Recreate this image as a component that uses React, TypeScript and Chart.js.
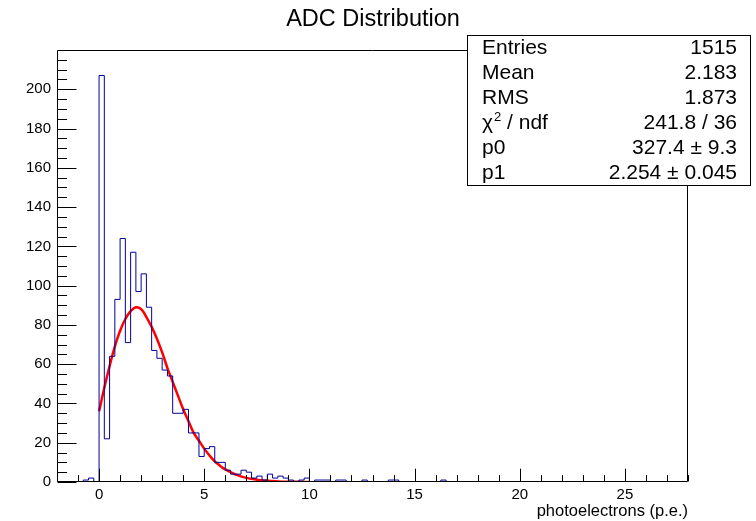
import React, { useEffect, useRef } from 'react';
import { Chart, registerables } from 'chart.js';

Chart.register(...registerables);

// ---------- data ----------
const binStart = -1.0;
const binWidth = 0.25;
const counts = [
  0, 1, 2, 0, 207, 22, 64, 93, 124, 71, 117, 97, 106, 89, 67, 63, 57, 54,
  35, 35, 37, 25, 25, 13, 17, 18, 10, 10, 6, 4, 4, 6, 5, 2, 3, 1, 4, 2, 3, 2,
  1, 0, 1, 2, 0, 1, 1, 1, 0, 1, 1, 0, 0, 0, 1, 0, 0, 0, 0, 1, 1,
  0, 0, 0, 0, 0, 0, 0, 0, 1, 0,
];

const fitX = [0, 0.25, 0.5, 0.75, 1, 1.25, 1.5, 1.75, 2, 2.25, 2.5, 2.75, 3, 3.25, 3.5, 3.75, 4, 4.25, 4.5, 4.75, 5, 5.25, 5.5, 5.75, 6, 6.5, 7, 7.5, 8, 8.5, 9, 9.5, 10];
const fitY = [36, 48, 59, 69, 77, 83, 87, 89, 88, 84, 79, 73, 66, 58, 51, 44, 37, 31, 25, 21, 17, 13.5, 10.5, 8.3, 6.4, 3.8, 2.1, 1.2, 0.6, 0.3, 0.15, 0.07, 0.03];

const xMajorTicks = [0, 5, 10, 15, 20, 25];
const yMajorTicks = [0, 20, 40, 60, 80, 100, 120, 140, 160, 180, 200];

const xMin = -2;
const xMax = 28;
const yMax = 220;

const titleText = 'ADC Distribution';
const xTitle = 'photoelectrons (p.e.)';
const statsLabels = ['Entries', 'Mean', 'RMS', 'CHI', 'p0', 'p1'];
const statsValues = ['1515', '2.183', '1.873', '241.8 / 36', '327.4 \u00b1 9.3', '2.254 \u00b1 0.045'];

const FONT = '"Liberation Sans", Arial, Helvetica, sans-serif';

const rootPlugin = {
  id: 'rootStyle',
  afterDatasetsDraw(chart: any) {
    const { ctx, chartArea: a } = chart;
    const xs = chart.scales.x;
    const ys = chart.scales.y;
    ctx.save();
    ctx.strokeStyle = '#000';
    ctx.lineWidth = 1;
    const L = Math.round(a.left) + 0.5;
    const R = Math.round(a.right) - 0.5;
    const T = Math.round(a.top) + 0.5;
    const B = Math.round(a.bottom) - 0.5;
    ctx.beginPath();
    ctx.rect(L, T, R - L, B - T);
    ctx.stroke();
    // x ticks (inside)
    ctx.beginPath();
    for (let v = xMin; v <= xMax; v += 1) {
      const px = Math.round(xs.getPixelForValue(v)) + 0.5;
      const len = v % 5 === 0 ? 12.8 : 6.4;
      ctx.moveTo(px, B);
      ctx.lineTo(px, B - len);
    }
    // y ticks (inside)
    for (let v = 0; v < yMax; v += 5) {
      const py = Math.round(ys.getPixelForValue(v)) + 0.5;
      const len = v % 20 === 0 ? 19 : 9.5;
      ctx.moveTo(L, py);
      ctx.lineTo(L + len, py);
    }
    ctx.stroke();
    ctx.restore();
  },
  afterDraw(chart: any) {
    const { ctx } = chart;
    ctx.save();
    // title
    ctx.fillStyle = '#000';
    ctx.font = `23.5px ${FONT}`;
    ctx.textAlign = 'center';
    ctx.textBaseline = 'middle';
    ctx.fillText(titleText, 373, 20);
    // stats box
    const bx = 467.5, by = 35.5, bw = 283, bh = 150;
    ctx.fillStyle = '#fff';
    ctx.fillRect(bx, by, bw, bh);
    ctx.strokeStyle = '#000';
    ctx.lineWidth = 1;
    ctx.strokeRect(bx, by, bw, bh);
    ctx.fillStyle = '#000';
    const fs = 21;
    ctx.textBaseline = 'middle';
    const lx = 482;
    statsLabels.forEach((lab, i) => {
      const cy = 48 + i * 25;
      ctx.font = `${fs}px ${FONT}`;
      ctx.textAlign = 'left';
      if (lab === 'CHI') {
        ctx.fillText('\u03c7', lx, cy);
        const w = ctx.measureText('\u03c7').width;
        ctx.font = `${Math.round(fs * 0.6)}px ${FONT}`;
        ctx.fillText('2', lx + w + 1, cy - 6);
        const w2 = ctx.measureText('2').width;
        ctx.font = `${fs}px ${FONT}`;
        ctx.fillText(' / ndf', lx + w + 1 + w2, cy);
      } else {
        ctx.fillText(lab, lx, cy);
      }
      ctx.textAlign = 'right';
      ctx.fillText(statsValues[i], 737, cy);
    });
    ctx.restore();
  },
};

export default function App() {
  const ref = useRef<HTMLCanvasElement | null>(null);
  useEffect(() => {
    if (!ref.current) return;
    const histData: { x: number; y: number }[] = counts.map((c, i) => ({ x: binStart + i * binWidth, y: c }));
    histData.push({ x: binStart + counts.length * binWidth, y: 0 });
    const fitData = fitX.map((x, i) => ({ x, y: fitY[i] }));
    const chart = new Chart(ref.current, {
      type: 'scatter',
      data: {
        datasets: [
          {
            data: histData,
            showLine: true,
            stepped: true,
            borderColor: '#000099',
            borderWidth: 1,
            pointRadius: 0,
            fill: false,
          } as any,
          {
            data: fitData,
            showLine: true,
            tension: 0.4,
            borderColor: '#ff0000',
            borderWidth: 2.5,
            pointRadius: 0,
            fill: false,
          } as any,
        ],
      },
      options: {
        responsive: false,
        animation: false,
        layout: { padding: { left: 0, right: 68, top: 50, bottom: 0 } },
        plugins: {
          legend: { display: false },
          tooltip: { enabled: false },
          title: { display: false },
        },
        scales: {
          x: {
            type: 'linear',
            min: xMin,
            max: xMax,
            grid: { display: false, drawTicks: false },
            border: { display: false },
            afterBuildTicks: (s: any) => {
              s.ticks = xMajorTicks.map((v) => ({ value: v }));
            },
            afterFit: (s: any) => {
              s.height = 39;
            },
            ticks: {
              padding: 4,
              color: '#000',
              maxRotation: 0,
              autoSkip: false,
              font: { family: FONT, size: 15 },
              callback: (v: any) => String(v),
            },
            title: {
              display: true,
              text: xTitle,
              align: 'end',
              color: '#000',
              font: { family: FONT, size: 16.5 },
              padding: { top: 0, bottom: 0 },
            },
          },
          y: {
            type: 'linear',
            min: 0,
            max: yMax,
            grid: { display: false, drawTicks: false },
            border: { display: false },
            afterBuildTicks: (s: any) => {
              s.ticks = yMajorTicks.map((v) => ({ value: v }));
            },
            afterFit: (s: any) => {
              s.width = 57;
            },
            ticks: {
              padding: 6,
              color: '#000',
              autoSkip: false,
              font: { family: FONT, size: 15 },
              callback: (v: any) => String(v),
            },
          },
        },
      } as any,
      plugins: [rootPlugin],
    });
    return () => chart.destroy();
  }, []);
  return (
    <div style={{ position: 'absolute', left: 0, top: 0, width: 756, height: 521, background: '#fff' }}>
      <canvas ref={ref} width={756} height={521} />
    </div>
  );
}
